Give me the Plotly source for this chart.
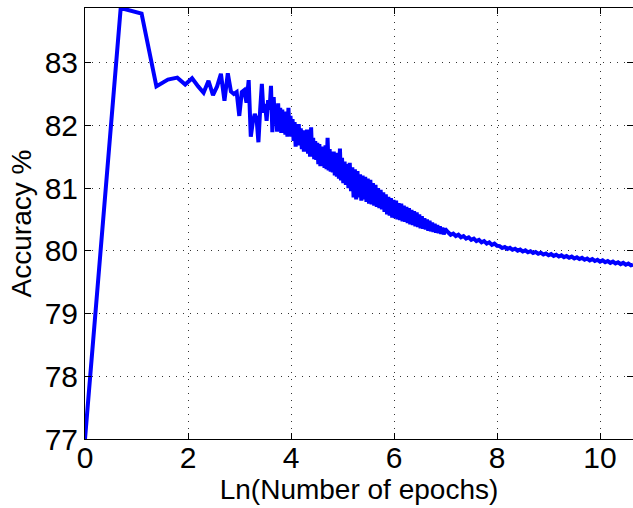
import numpy as np
import plotly.graph_objects as go

# Accuracy for the first 40 epochs (each epoch plotted individually)
early_epochs = list(range(1, 41))
early_acc = [
    77.00, 83.87, 83.78, 82.62, 82.73, 82.76, 82.65, 82.75, 82.62, 82.52,
    82.71, 82.48, 82.62, 82.82, 82.39, 82.83, 82.54, 82.50, 82.53, 82.15,
    82.53, 82.56, 82.36, 82.72, 81.82, 82.05, 82.18, 82.10, 81.73, 82.25,
    82.66, 82.20, 82.34, 82.07, 82.40, 82.25, 82.63, 81.89, 82.45, 82.02,
]

# Later epochs, given directly on the log scale (oscillating band)
late_ln = [
    3.71, 3.73, 3.75, 3.77, 3.79, 3.81, 3.83, 3.85, 3.87, 3.89,
    3.91, 3.93, 3.95, 3.97, 3.99, 4.01, 4.03, 4.05, 4.07, 4.09,
    4.11, 4.13, 4.15, 4.17, 4.19, 4.21, 4.23, 4.25, 4.27, 4.29,
    4.31, 4.33, 4.35, 4.37, 4.39, 4.41, 4.43, 4.45, 4.47, 4.49,
    4.51, 4.53, 4.55, 4.57, 4.59, 4.61, 4.63, 4.65, 4.67, 4.69,
    4.71, 4.73, 4.75, 4.77, 4.79, 4.81, 4.83, 4.85, 4.87, 4.89,
    4.91, 4.93, 4.95, 4.97, 4.99,
    5.015, 5.04, 5.065, 5.09, 5.115, 5.14, 5.165, 5.19, 5.215, 5.24,
    5.265, 5.29, 5.315, 5.34, 5.365, 5.39, 5.415, 5.44, 5.465, 5.49,
    5.515, 5.54, 5.565, 5.59, 5.615, 5.64, 5.665, 5.69, 5.715, 5.74,
    5.765, 5.79, 5.815, 5.84, 5.865, 5.89, 5.915, 5.94, 5.965, 5.99,
    6.015, 6.04, 6.065, 6.09, 6.115, 6.14, 6.165, 6.19, 6.215, 6.24,
    6.265, 6.29, 6.315, 6.34, 6.365, 6.39, 6.415, 6.44, 6.465, 6.49,
    6.515, 6.54, 6.565, 6.59, 6.615, 6.64, 6.665, 6.69, 6.715, 6.74,
    6.765, 6.79, 6.815, 6.84, 6.865, 6.89, 6.915, 6.94, 6.965, 6.99,
    7.05, 7.10, 7.15, 7.20, 7.25, 7.30, 7.35, 7.40, 7.45, 7.50,
    7.55, 7.60, 7.65, 7.70, 7.75, 7.80, 7.85, 7.90, 7.95, 8.00,
    8.05, 8.10, 8.15, 8.20, 8.25, 8.30, 8.35, 8.40, 8.45, 8.50,
    8.55, 8.60, 8.65, 8.70, 8.75, 8.80, 8.85, 8.90, 8.95, 9.00,
    9.05, 9.10, 9.15, 9.20, 9.25, 9.30, 9.35, 9.40, 9.45, 9.50,
    9.55, 9.60, 9.65, 9.70, 9.75, 9.80, 9.85, 9.90, 9.95, 10.00,
    10.05, 10.10, 10.15, 10.20, 10.25, 10.30, 10.35, 10.40, 10.45, 10.50,
    10.55, 10.60, 10.64,
]
late_acc = [
    82.20, 81.90, 82.35, 81.95, 82.28, 81.88, 82.25, 81.95, 82.15, 81.85,
    82.22, 81.82, 82.28, 81.90, 82.15, 81.82, 82.10, 81.75, 82.05, 81.66,
    81.98, 81.75, 82.02, 81.68, 81.95, 81.62, 81.92, 81.58, 81.85, 81.62,
    81.93, 81.55, 81.90, 81.50, 81.97, 81.52, 81.80, 81.46, 81.75, 81.45,
    81.72, 81.38, 81.70, 81.35, 81.66, 81.38, 81.62, 81.32, 81.68, 81.30,
    81.80, 81.28, 81.62, 81.26, 81.55, 81.25, 81.58, 81.20, 81.52, 81.18,
    81.56, 81.15, 81.63, 81.12, 81.48,
    81.08, 81.42, 81.05, 81.38, 81.00, 81.40, 80.95, 81.33, 80.85, 81.30,
    80.82, 81.27, 80.85, 81.22, 80.80, 81.20, 80.82, 81.18, 80.78, 81.15,
    80.75, 81.13, 80.74, 81.08, 80.72, 81.05, 80.70, 81.00, 80.68, 80.97,
    80.66, 80.93, 80.62, 80.90, 80.58, 80.86, 80.56, 80.84, 80.53, 80.81,
    80.52, 80.80, 80.50, 80.76, 80.49, 80.75, 80.47, 80.72, 80.46, 80.70,
    80.44, 80.68, 80.42, 80.65, 80.41, 80.63, 80.39, 80.61, 80.38, 80.58,
    80.36, 80.55, 80.35, 80.52, 80.34, 80.50, 80.32, 80.48, 80.31, 80.45,
    80.30, 80.43, 80.29, 80.41, 80.28, 80.39, 80.27, 80.37, 80.26, 80.35,
    80.295, 80.255, 80.275, 80.235, 80.255, 80.215, 80.235, 80.195, 80.215, 80.175,
    80.195, 80.155, 80.175, 80.135, 80.155, 80.115, 80.135, 80.095, 80.115, 80.080,
    80.075, 80.044, 80.061, 80.030, 80.047, 80.016, 80.033, 80.002, 80.019, 79.988,
    80.006, 79.976, 79.994, 79.964, 79.982, 79.952, 79.970, 79.940, 79.958, 79.928,
    79.947, 79.918, 79.937, 79.908, 79.927, 79.898, 79.917, 79.888, 79.907, 79.878,
    79.897, 79.868, 79.887, 79.858, 79.877, 79.848, 79.867, 79.838, 79.857, 79.828,
    79.847, 79.818, 79.837, 79.808, 79.827, 79.798, 79.817, 79.788, 79.807, 79.778,
    79.797, 79.768, 79.780,
]

x_ticks = [0, 2, 4, 6, 8, 10]
y_ticks = [77, 78, 79, 80, 81, 82, 83]

x_vals = list(np.log(early_epochs)) + late_ln
y_vals = early_acc + late_acc

fig = go.Figure()
fig.add_trace(go.Scatter(
    x=x_vals, y=y_vals, mode="lines",
    line=dict(color="#0000FF", width=4, simplify=False),
    hoverinfo="skip",
))

font_family = "Liberation Sans, Arial, Helvetica, sans-serif"
axis_common = dict(
    showline=True, linecolor="black", linewidth=1, mirror="ticks",
    ticks="inside", ticklen=6, tickcolor="black", tickwidth=1,
    showgrid=True, gridcolor="#333333", griddash="1px,6px", gridwidth=1,
    zeroline=False,
    tickfont=dict(family=font_family, size=30, color="black"),
)

fig.update_layout(
    width=633, height=508,
    margin=dict(l=85, r=0, t=8, b=69),
    paper_bgcolor="white", plot_bgcolor="white",
    showlegend=False,
    font=dict(family=font_family, color="black"),
    xaxis=dict(
        range=[0, 10.64], tickvals=x_ticks, ticklabelstandoff=-8,
        title=dict(text="Ln(Number of epochs)", standoff=0,
                   font=dict(family=font_family, size=28, color="black")),
        **axis_common,
    ),
    yaxis=dict(
        range=[77, 83.87], tickvals=y_ticks,
        title=dict(text="Accuracy %", standoff=4,
                   font=dict(family=font_family, size=28, color="black")),
        **axis_common,
    ),
)

fig.write_html("out.html")
